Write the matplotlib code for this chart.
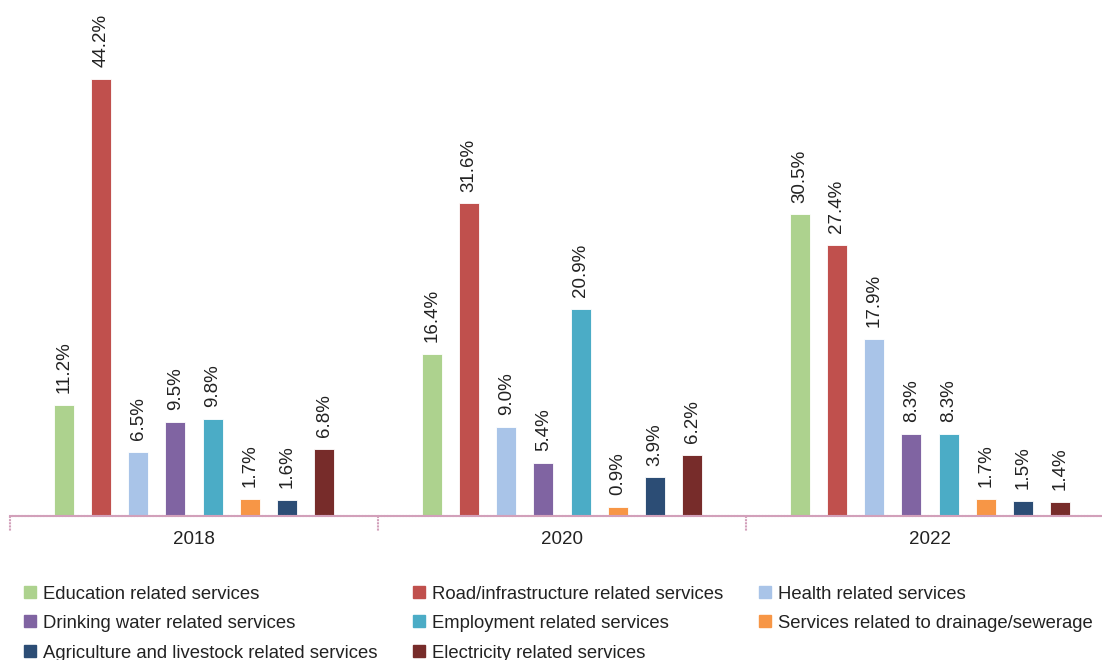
import matplotlib
matplotlib.use("Agg")
import matplotlib.pyplot as plt
import matplotlib.transforms as mtransforms
from matplotlib.patches import Rectangle
import numpy as np

plt.rcParams['font.family'] = ['Liberation Sans', 'DejaVu Sans']

years = ['2018', '2020', '2022']
services = [
    'Education related services',
    'Road/infrastructure related services',
    'Health related services',
    'Drinking water related services',
    'Employment related services',
    'Services related to drainage/sewerage',
    'Agriculture and livestock related services',
    'Electricity related services',
]
colors = ['#ADD28E', '#C0504D', '#A9C4E8', '#8064A2', '#4BACC6', '#F79646', '#2C4D75', '#772C2A']

education = [11.2, 16.4, 30.5]
road = [44.2, 31.6, 27.4]
health = [6.5, 9.0, 17.9]
drinking_water = [9.5, 5.4, 8.3]
employment = [9.8, 20.9, 8.3]
drainage = [1.7, 0.9, 1.7]
agriculture = [1.6, 3.9, 1.5]
electricity = [6.8, 6.2, 1.4]
series = [education, road, health, drinking_water, employment, drainage, agriculture, electricity]

W, H = 1102, 660
fig = plt.figure(figsize=(W / 100, H / 100), dpi=100)
ax = fig.add_axes([10 / W, (H - 516) / H, 1092 / W, 516 / H])

step = 37.2 / 368
bw = 20 / 368
x = np.arange(len(years))
text_color = '#222222'
for j, (vals, col) in enumerate(zip(series, colors)):
    xs = x + (j - 3.5) * step
    bars = ax.bar(xs, vals, width=bw, color=col, edgecolor='white', linewidth=0.6)
    for b, v in zip(bars, vals):
        ax.annotate(f'{v:.1f}%', (b.get_x() + b.get_width() / 2, v),
                    xytext=(0, 8.5), textcoords='offset points',
                    rotation=90, ha='center', va='bottom',
                    fontsize=13.5, color=text_color)

ax.set_xlim(-0.5, -0.5 + 1092 / 368)
ax.set_ylim(0, 516 / 9.89)
for s in ['top', 'right', 'left']:
    ax.spines[s].set_visible(False)
axis_col = '#D2A0BA'
dots = (0, (1.0, 0.5))
ax.spines['bottom'].set_linestyle(dots)
ax.spines['bottom'].set_color(axis_col)
ax.spines['bottom'].set_linewidth(1.5)
ax.set_yticks([])
ax.set_xticks(x)
ax.set_xticklabels(years, fontsize=13.5, color=text_color)
ax.tick_params(axis='x', length=0, pad=10.5)

# dotted group separators below the axis
trans = mtransforms.blended_transform_factory(ax.transData, ax.transAxes)
for b in np.arange(-0.5, len(years) + 0.5, 1.0):
    ax.plot([b, b], [0, -15 / 516], transform=trans, clip_on=False,
            color=axis_col, linestyle=dots, linewidth=1.5)

# legend laid out in rows
col_x = [24, 413, 759]
row_y = [592, 621, 651]
for k, (name, col) in enumerate(zip(services, colors)):
    r, c = divmod(k, 3)
    px, py = col_x[c], row_y[r]
    fig.add_artist(Rectangle((px / W, 1 - (py + 6) / H), 12 / W, 12 / H,
                             transform=fig.transFigure, color=col))
    fig.text((px + 19) / W, 1 - (py + 2.5) / H, name, fontsize=13.3, color=text_color,
             ha='left', va='center')

fig.savefig('out.png', dpi=100)
